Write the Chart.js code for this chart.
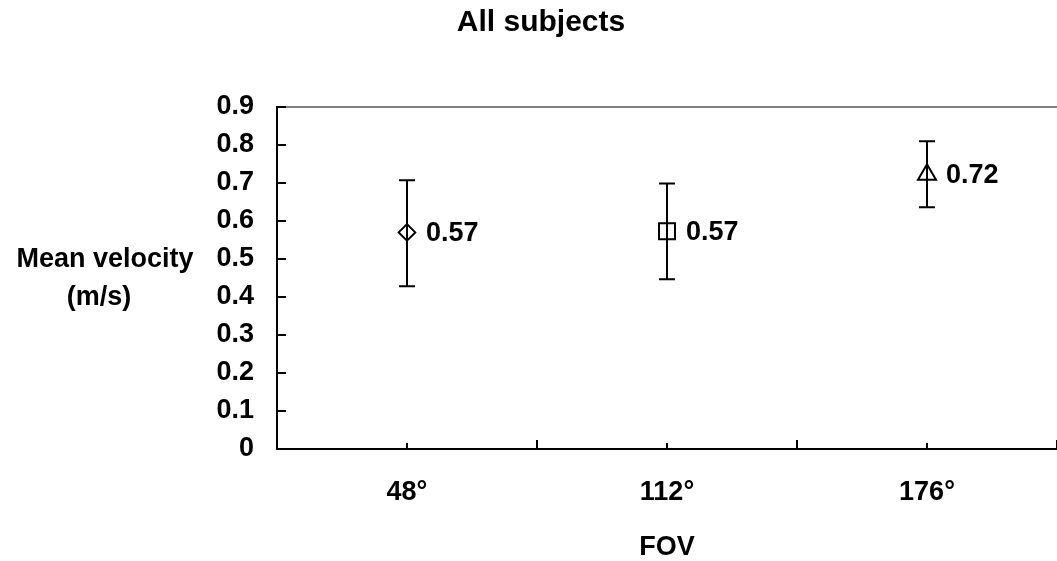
<!DOCTYPE html>
<html>
<head>
<meta charset="utf-8">
<script src="https://cdn.jsdelivr.net/npm/chart.js@4"></script>
<style>
  html, body { margin: 0; padding: 0; background: #fff; }
  #wrap { width: 1057px; height: 561px; position: relative; }
</style>
</head>
<body>
<div id="wrap"><canvas id="c"></canvas></div>
<script>
// ---- data ----
const categories = ['48°', '112°', '176°'];
const categoryPositions = [0.5, 1.5, 2.5];
const meanVelocity = [0.57, 0.573, 0.722];
const errorUpper = [0.707, 0.699, 0.81];
const errorLower = [0.428, 0.447, 0.636];
const valueLabels = ['0.57', '0.57', '0.72'];
const markerStyles = ['rectRot', 'rect', 'triangle'];
const markerSizes = [8.3, 11.3, 10.4];
const yTickValues = [0, 0.1, 0.2, 0.3, 0.4, 0.5, 0.6, 0.7, 0.8, 0.9];
const xTickValues = [0, 0.5, 1, 1.5, 2, 2.5, 3];
const chartTitle = 'All subjects';
const yTitleLines = ['Mean velocity', '(m/s)'];
const xTitle = 'FOV';

const FONT = "'Liberation Sans', Arial, Helvetica, sans-serif";

const overlay = {
  id: 'overlay',
  beforeDatasetsDraw(chart) {
    const ctx = chart.ctx;
    const xs = chart.scales.x, ys = chart.scales.y;
    const area = chart.chartArea;
    ctx.save();
    // top gray border at max
    ctx.strokeStyle = '#808080';
    ctx.lineWidth = 2;
    ctx.beginPath();
    const yTop = ys.getPixelForValue(ys.max);
    ctx.moveTo(area.left, yTop);
    ctx.lineTo(area.right, yTop);
    ctx.stroke();
    // inward tick marks
    ctx.strokeStyle = '#000';
    ctx.lineWidth = 2;
    ctx.beginPath();
    yTickValues.forEach(v => {
      const p = Math.round(ys.getPixelForValue(v));
      ctx.moveTo(area.left, p);
      ctx.lineTo(area.left + 9, p);
    });
    xTickValues.forEach(v => {
      const p = Math.round(xs.getPixelForValue(v));
      const len = Number.isInteger(v) ? 9 : 6;
      ctx.moveTo(p, area.bottom);
      ctx.lineTo(p, area.bottom - len);
    });
    ctx.stroke();
    // error bars
    ctx.lineWidth = 2;
    ctx.beginPath();
    categoryPositions.forEach((xv, i) => {
      const px = Math.round(xs.getPixelForValue(xv));
      const pt = ys.getPixelForValue(errorUpper[i]);
      const pb = ys.getPixelForValue(errorLower[i]);
      ctx.moveTo(px, pt); ctx.lineTo(px, pb);
      ctx.moveTo(px - 8, pt); ctx.lineTo(px + 8, pt);
      ctx.moveTo(px - 8, pb); ctx.lineTo(px + 8, pb);
    });
    ctx.stroke();
    ctx.restore();
  },
  afterDatasetsDraw(chart) {
    const ctx = chart.ctx;
    const xs = chart.scales.x, ys = chart.scales.y;
    ctx.save();
    ctx.fillStyle = '#000';
    ctx.font = 'bold 27px ' + FONT;
    ctx.textAlign = 'left';
    ctx.textBaseline = 'middle';
    categoryPositions.forEach((xv, i) => {
      const px = xs.getPixelForValue(xv);
      const py = ys.getPixelForValue(meanVelocity[i]);
      ctx.fillText(valueLabels[i], px + 19, py + 1);
    });
    // chart title
    ctx.font = 'bold 30px ' + FONT;
    ctx.textAlign = 'center';
    ctx.textBaseline = 'alphabetic';
    ctx.fillText(chartTitle, 541, 31);
    // horizontal y-axis title
    ctx.font = 'bold 27px ' + FONT;
    ctx.textBaseline = 'middle';
    ctx.fillText(yTitleLines[0], 105, ys.getPixelForValue(0.5) + 1);
    ctx.fillText(yTitleLines[1], 99, ys.getPixelForValue(0.4) + 1);
    ctx.restore();
  }
};

new Chart(document.getElementById('c'), {
  type: 'scatter',
  data: {
    datasets: [{
      data: categoryPositions.map((x, i) => ({ x: x, y: meanVelocity[i] })),
      pointStyle: markerStyles,
      pointRadius: markerSizes,
      pointHoverRadius: markerSizes,
      pointBackgroundColor: 'rgba(0,0,0,0)',
      pointBorderColor: '#000',
      pointBorderWidth: 2,
      showLine: false,
      clip: false
    }]
  },
  options: {
    responsive: true,
    maintainAspectRatio: false,
    animation: false,
    events: [],
    layout: { autoPadding: false, padding: { top: 107, left: 0, right: 0, bottom: 0 } },
    plugins: {
      legend: { display: false },
      title: { display: false },
      tooltip: { enabled: false }
    },
    scales: {
      x: {
        type: 'linear',
        min: 0, max: 3,
        afterBuildTicks: s => { s.ticks = xTickValues.map(v => ({ value: v })); },
        afterFit: s => { s.height = 112; s.paddingLeft = 0; s.paddingRight = 0; },
        grid: { display: false, drawTicks: false },
        border: { display: true, color: '#000', width: 2 },
        ticks: {
          autoSkip: false,
          maxRotation: 0,
          padding: 27,
          color: '#000',
          font: { family: FONT, size: 27, weight: 'bold' },
          callback: v => {
            const i = categoryPositions.indexOf(v);
            return i >= 0 ? categories[i] : '';
          }
        },
        title: {
          display: true,
          text: xTitle,
          color: '#000',
          font: { family: FONT, size: 27, weight: 'bold', lineHeight: 1 },
          padding: { top: 0, bottom: 0 }
        }
      },
      y: {
        min: 0, max: 0.9,
        afterBuildTicks: s => { s.ticks = yTickValues.map(v => ({ value: v })); },
        afterFit: s => { s.width = 277; },
        grid: { display: false, drawTicks: false },
        border: { display: true, color: '#000', width: 2 },
        ticks: {
          autoSkip: false,
          padding: 23,
          color: '#000',
          font: { family: FONT, size: 27, weight: 'bold' },
          callback: v => v === 0 ? '0' : v.toFixed(1)
        }
      }
    }
  },
  plugins: [overlay]
});
</script>
</body>
</html>
